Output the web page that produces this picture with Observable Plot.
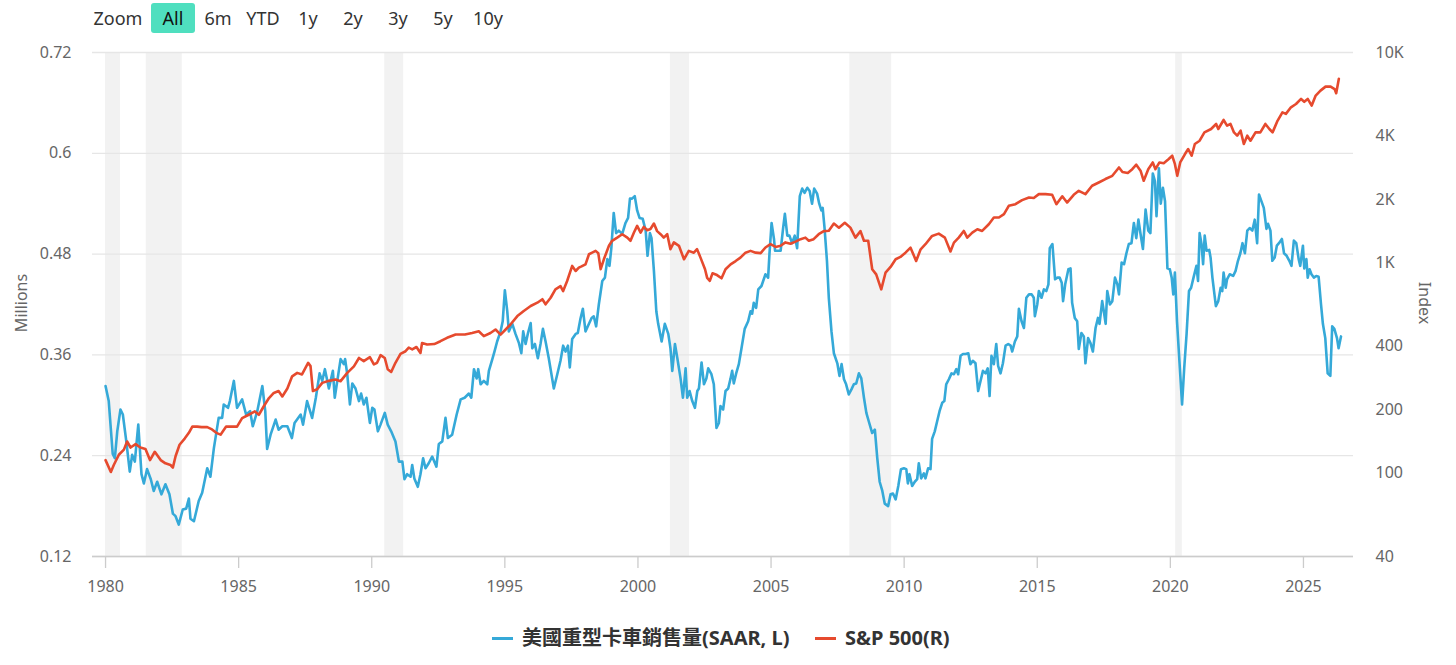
<!DOCTYPE html>
<html>
<head>
<meta charset="utf-8">
<script src="https://cdn.jsdelivr.net/npm/d3@7"></script>
<script src="https://cdn.jsdelivr.net/npm/@observablehq/plot@0.6"></script>
<style>
  html, body { margin: 0; padding: 0; background: #fff; }
  body { font-family: "Noto Sans", "Noto Sans CJK TC", sans-serif; }
  #wrap { position: relative; width: 1456px; height: 665px; overflow: hidden; }
  #wrap svg { position: absolute; left: 0; top: 0; }
  .btn { position: absolute; top: 3px; width: 44px; height: 30px; line-height: 30px; text-align: center; font-size: 18px; color: #333; border-radius: 3px; }
  .btn.sel { background: #4fdfbf; color: #111; }
  .ttl { position: absolute; font-size: 16px; color: #666; white-space: nowrap; }
  .leg { position: absolute; top: 623px; font-size: 20px; color: #333; font-weight: bold; white-space: nowrap; line-height: 30px; font-family: "Noto Sans", "Noto Sans CJK TC", sans-serif; }
  .sw { position: absolute; top: 637px; height: 3px; width: 21px; }
</style>
</head>
<body>
<div id="wrap"></div>
<script>
// ---- data ----
const truckYear = [1980.00,1980.12,1980.27,1980.35,1980.44,1980.56,1980.65,1980.78,1980.91,1981.00,1981.10,1981.23,1981.35,1981.44,1981.56,1981.70,1981.81,1981.94,1982.10,1982.25,1982.40,1982.53,1982.63,1982.75,1982.90,1983.03,1983.13,1983.19,1983.32,1983.50,1983.63,1983.82,1983.94,1984.07,1984.25,1984.38,1984.44,1984.60,1984.67,1984.82,1984.94,1985.13,1985.28,1985.43,1985.53,1985.70,1985.89,1986.00,1986.07,1986.20,1986.39,1986.50,1986.64,1986.83,1987.00,1987.10,1987.33,1987.42,1987.57,1987.76,1987.90,1988.04,1988.14,1988.24,1988.39,1988.54,1988.61,1988.83,1988.95,1989.00,1989.08,1989.18,1989.27,1989.39,1989.52,1989.60,1989.70,1989.80,1989.93,1990.02,1990.10,1990.23,1990.33,1990.49,1990.60,1990.73,1990.89,1991.02,1991.15,1991.23,1991.33,1991.46,1991.52,1991.60,1991.73,1991.83,1991.93,1992.02,1992.14,1992.27,1992.43,1992.52,1992.65,1992.77,1992.86,1993.02,1993.19,1993.34,1993.49,1993.65,1993.74,1993.84,1993.94,1994.00,1994.09,1994.21,1994.34,1994.40,1994.53,1994.61,1994.71,1994.84,1994.92,1995.00,1995.09,1995.15,1995.28,1995.40,1995.53,1995.62,1995.69,1995.78,1995.87,1995.97,1996.03,1996.13,1996.24,1996.34,1996.43,1996.53,1996.65,1996.84,1996.97,1997.09,1997.19,1997.28,1997.37,1997.44,1997.53,1997.66,1997.74,1997.84,1997.93,1998.03,1998.16,1998.26,1998.34,1998.43,1998.53,1998.66,1998.76,1998.85,1998.93,1999.00,1999.09,1999.18,1999.28,1999.41,1999.53,1999.63,1999.70,1999.78,1999.88,1999.97,2000.06,2000.18,2000.29,2000.36,2000.45,2000.51,2000.60,2000.69,2000.76,2000.89,2001.01,2001.14,2001.22,2001.29,2001.39,2001.48,2001.60,2001.69,2001.79,2001.85,2001.94,2002.04,2002.14,2002.23,2002.29,2002.39,2002.48,2002.57,2002.64,2002.76,2002.85,2002.95,2003.04,2003.10,2003.20,2003.29,2003.39,2003.48,2003.54,2003.60,2003.69,2003.79,2003.89,2004.01,2004.14,2004.23,2004.29,2004.35,2004.44,2004.52,2004.64,2004.79,2004.89,2004.94,2005.02,2005.11,2005.15,2005.27,2005.36,2005.45,2005.52,2005.61,2005.69,2005.79,2005.89,2005.98,2006.08,2006.17,2006.26,2006.36,2006.45,2006.54,2006.62,2006.73,2006.81,2006.89,2006.94,2007.01,2007.10,2007.17,2007.27,2007.36,2007.49,2007.57,2007.65,2007.74,2007.82,2007.92,2008.02,2008.11,2008.20,2008.30,2008.39,2008.49,2008.58,2008.67,2008.80,2008.90,2008.99,2009.08,2009.18,2009.27,2009.40,2009.49,2009.58,2009.68,2009.78,2009.88,2009.99,2010.08,2010.14,2010.20,2010.30,2010.40,2010.49,2010.55,2010.64,2010.74,2010.80,2010.90,2010.99,2011.05,2011.15,2011.24,2011.33,2011.43,2011.51,2011.58,2011.68,2011.78,2011.87,2011.96,2012.03,2012.12,2012.21,2012.31,2012.41,2012.49,2012.58,2012.68,2012.78,2012.87,2012.96,2013.06,2013.14,2013.21,2013.28,2013.37,2013.46,2013.53,2013.62,2013.71,2013.81,2013.91,2014.00,2014.06,2014.16,2014.25,2014.31,2014.41,2014.50,2014.59,2014.69,2014.79,2014.87,2014.91,2015.00,2015.06,2015.16,2015.25,2015.34,2015.42,2015.47,2015.57,2015.67,2015.76,2015.84,2015.92,2015.97,2016.05,2016.17,2016.25,2016.31,2016.41,2016.50,2016.56,2016.66,2016.75,2016.81,2016.91,2017.00,2017.09,2017.19,2017.28,2017.34,2017.44,2017.50,2017.57,2017.63,2017.73,2017.82,2017.92,2018.01,2018.07,2018.17,2018.26,2018.35,2018.44,2018.54,2018.63,2018.72,2018.80,2018.88,2018.97,2019.07,2019.17,2019.25,2019.34,2019.42,2019.48,2019.57,2019.64,2019.72,2019.80,2019.89,2019.98,2020.05,2020.11,2020.17,2020.25,2020.34,2020.44,2020.52,2020.61,2020.70,2020.78,2020.87,2020.98,2021.04,2021.10,2021.17,2021.23,2021.29,2021.36,2021.46,2021.51,2021.58,2021.71,2021.80,2021.89,2021.95,2022.00,2022.08,2022.13,2022.23,2022.36,2022.45,2022.54,2022.63,2022.71,2022.80,2022.89,2022.98,2023.08,2023.17,2023.26,2023.33,2023.42,2023.51,2023.61,2023.67,2023.76,2023.83,2023.92,2024.00,2024.08,2024.19,2024.27,2024.37,2024.47,2024.55,2024.64,2024.73,2024.82,2024.88,2024.98,2025.03,2025.11,2025.16,2025.23,2025.30,2025.39,2025.48,2025.57,2025.66,2025.73,2025.82,2025.91,2026.01,2026.08,2026.16,2026.26,2026.32,2026.41];
const truckSales = [0.323,0.305,0.242,0.237,0.269,0.295,0.289,0.257,0.221,0.241,0.233,0.277,0.218,0.207,0.224,0.212,0.198,0.209,0.194,0.206,0.194,0.171,0.168,0.158,0.176,0.177,0.189,0.165,0.162,0.186,0.196,0.225,0.215,0.249,0.285,0.285,0.301,0.297,0.305,0.329,0.297,0.307,0.289,0.293,0.275,0.293,0.323,0.293,0.248,0.265,0.283,0.271,0.275,0.275,0.261,0.279,0.289,0.277,0.305,0.285,0.309,0.338,0.329,0.343,0.320,0.341,0.309,0.355,0.349,0.355,0.337,0.301,0.326,0.320,0.305,0.314,0.301,0.309,0.279,0.297,0.295,0.269,0.277,0.291,0.277,0.269,0.257,0.233,0.233,0.212,0.218,0.215,0.229,0.213,0.203,0.218,0.237,0.225,0.231,0.239,0.227,0.254,0.257,0.285,0.261,0.265,0.289,0.307,0.309,0.314,0.309,0.343,0.332,0.343,0.325,0.329,0.325,0.341,0.355,0.364,0.376,0.388,0.400,0.437,0.412,0.388,0.397,0.385,0.374,0.362,0.388,0.373,0.386,0.398,0.368,0.373,0.356,0.373,0.391,0.376,0.356,0.320,0.337,0.353,0.371,0.364,0.371,0.345,0.379,0.385,0.386,0.403,0.415,0.388,0.397,0.404,0.406,0.394,0.420,0.448,0.452,0.474,0.466,0.487,0.529,0.505,0.508,0.504,0.517,0.523,0.546,0.546,0.549,0.532,0.523,0.522,0.508,0.478,0.505,0.499,0.460,0.412,0.397,0.376,0.397,0.385,0.368,0.341,0.373,0.356,0.332,0.309,0.344,0.309,0.317,0.305,0.297,0.317,0.320,0.351,0.325,0.332,0.344,0.337,0.325,0.273,0.279,0.299,0.295,0.317,0.320,0.332,0.341,0.326,0.338,0.349,0.368,0.391,0.400,0.412,0.409,0.422,0.416,0.438,0.442,0.456,0.452,0.480,0.517,0.498,0.484,0.484,0.484,0.510,0.528,0.502,0.502,0.493,0.502,0.487,0.549,0.558,0.553,0.559,0.555,0.540,0.558,0.552,0.540,0.532,0.535,0.511,0.472,0.428,0.388,0.362,0.350,0.335,0.349,0.331,0.325,0.313,0.319,0.325,0.326,0.338,0.332,0.309,0.291,0.281,0.267,0.271,0.237,0.209,0.198,0.183,0.180,0.194,0.195,0.188,0.204,0.224,0.225,0.224,0.207,0.218,0.204,0.209,0.212,0.231,0.213,0.219,0.213,0.225,0.224,0.260,0.269,0.281,0.293,0.303,0.305,0.325,0.331,0.338,0.337,0.343,0.337,0.359,0.361,0.361,0.362,0.349,0.353,0.350,0.317,0.329,0.341,0.338,0.344,0.311,0.359,0.349,0.373,0.347,0.338,0.350,0.371,0.373,0.371,0.364,0.376,0.382,0.415,0.400,0.392,0.428,0.432,0.432,0.428,0.406,0.420,0.436,0.428,0.438,0.436,0.444,0.487,0.492,0.450,0.452,0.452,0.446,0.424,0.444,0.462,0.463,0.422,0.404,0.400,0.367,0.386,0.382,0.350,0.380,0.374,0.364,0.392,0.404,0.397,0.424,0.412,0.397,0.436,0.420,0.424,0.452,0.444,0.432,0.470,0.468,0.481,0.492,0.493,0.517,0.499,0.521,0.504,0.486,0.533,0.508,0.505,0.576,0.567,0.525,0.582,0.540,0.559,0.543,0.463,0.462,0.452,0.432,0.458,0.400,0.353,0.301,0.344,0.385,0.436,0.440,0.452,0.466,0.448,0.505,0.492,0.468,0.502,0.484,0.485,0.476,0.452,0.418,0.424,0.440,0.436,0.458,0.440,0.450,0.456,0.454,0.460,0.472,0.481,0.493,0.481,0.508,0.511,0.508,0.521,0.493,0.551,0.543,0.535,0.510,0.516,0.508,0.472,0.476,0.490,0.493,0.498,0.481,0.478,0.472,0.466,0.496,0.493,0.474,0.466,0.490,0.463,0.474,0.452,0.462,0.456,0.452,0.454,0.453,0.420,0.397,0.380,0.338,0.335,0.394,0.391,0.380,0.368,0.382];

const spxYear = [1980.00,1980.20,1980.31,1980.50,1980.69,1980.81,1980.94,1981.13,1981.31,1981.50,1981.67,1981.85,1982.07,1982.25,1982.44,1982.53,1982.63,1982.78,1982.98,1983.13,1983.26,1983.44,1983.61,1983.82,1984.00,1984.16,1984.32,1984.53,1984.76,1984.94,1985.13,1985.38,1985.61,1985.76,1985.95,1986.14,1986.32,1986.50,1986.64,1986.83,1987.01,1987.20,1987.38,1987.51,1987.61,1987.70,1987.79,1987.95,1988.14,1988.39,1988.64,1988.83,1989.08,1989.33,1989.52,1989.70,1989.93,1990.08,1990.20,1990.33,1990.49,1990.60,1990.73,1990.89,1991.08,1991.27,1991.39,1991.52,1991.68,1991.83,1991.89,1992.08,1992.35,1992.58,1992.83,1993.15,1993.50,1993.77,1994.02,1994.21,1994.46,1994.65,1994.84,1995.03,1995.21,1995.47,1995.71,1995.97,1996.22,1996.41,1996.53,1996.72,1996.90,1997.09,1997.19,1997.34,1997.53,1997.66,1997.78,1997.88,1998.03,1998.16,1998.28,1998.41,1998.51,1998.60,1998.72,1998.91,1999.03,1999.22,1999.41,1999.60,1999.72,1999.85,1999.97,2000.10,2000.22,2000.35,2000.47,2000.60,2000.72,2000.85,2000.97,2001.10,2001.22,2001.35,2001.54,2001.73,2001.91,2002.10,2002.22,2002.35,2002.52,2002.60,2002.70,2002.80,2002.97,2003.14,2003.29,2003.48,2003.67,2003.85,2004.04,2004.23,2004.42,2004.61,2004.79,2004.98,2005.17,2005.36,2005.54,2005.73,2005.92,2006.11,2006.29,2006.42,2006.60,2006.79,2006.98,2007.17,2007.36,2007.55,2007.77,2007.98,2008.17,2008.36,2008.49,2008.65,2008.80,2008.95,2009.14,2009.30,2009.49,2009.68,2009.86,2010.05,2010.24,2010.45,2010.62,2010.80,2011.05,2011.30,2011.53,2011.74,2011.87,2012.05,2012.24,2012.37,2012.56,2012.75,2012.93,2013.18,2013.37,2013.56,2013.75,2013.93,2014.18,2014.43,2014.69,2014.87,2015.06,2015.31,2015.56,2015.72,2015.94,2016.12,2016.37,2016.56,2016.81,2017.06,2017.31,2017.56,2017.82,2018.07,2018.20,2018.40,2018.57,2018.72,2018.88,2019.00,2019.17,2019.34,2019.44,2019.59,2019.75,2019.94,2020.07,2020.17,2020.26,2020.37,2020.55,2020.67,2020.80,2020.92,2021.10,2021.28,2021.53,2021.72,2021.80,2022.00,2022.13,2022.26,2022.39,2022.51,2022.64,2022.76,2022.89,2023.01,2023.20,2023.38,2023.57,2023.72,2023.84,2024.03,2024.21,2024.34,2024.53,2024.72,2024.91,2025.03,2025.16,2025.31,2025.46,2025.64,2025.83,2026.02,2026.17,2026.23,2026.33];
const spxClose = [115,101,109,122,129,141,132,137,132,130,115,126,115,111,109,106,120,136,146,155,166,166,165,165,161,155,152,166,166,166,182,189,196,189,208,227,240,245,231,252,288,299,294,316,334,322,245,250,268,274,278,273,299,321,352,340,355,328,334,363,352,311,302,334,368,379,394,387,397,372,415,408,410,423,439,455,455,463,472,447,463,481,455,481,508,557,589,622,645,670,634,681,747,774,733,818,965,913,947,960,982,1097,1116,1138,1110,931,1038,1203,1271,1316,1366,1316,1271,1391,1497,1391,1480,1427,1446,1535,1413,1366,1316,1366,1160,1249,1203,1038,1138,1116,1160,1057,931,847,820,890,873,843,931,982,1018,1057,1116,1138,1116,1110,1181,1225,1188,1203,1249,1230,1260,1294,1316,1271,1294,1366,1413,1420,1535,1468,1549,1468,1316,1413,1271,1271,931,880,747,896,954,1038,1065,1116,1179,1019,1158,1224,1341,1375,1316,1131,1246,1316,1416,1316,1390,1443,1416,1524,1640,1640,1701,1864,1898,1984,2042,2030,2119,2119,2104,1898,2070,1932,2104,2198,2119,2322,2407,2500,2590,2838,2700,2670,2785,2924,2740,2453,2785,2998,2785,2998,2975,3112,3227,2950,2590,2998,3288,3474,3227,3671,3805,4168,4326,4571,4326,4775,4487,4571,4168,4020,4246,3671,4020,3805,4168,4168,4571,4326,4168,4742,5192,5103,5486,5690,6014,5828,6014,5590,6237,6587,6882,6882,6700,6398,7494];

const recessionStart = [1980.00, 1981.53, 1990.49, 2001.22, 2007.96, 2020.20];
const recessionEnd   = [1980.56, 1982.88, 1991.20, 2001.94, 2009.53, 2020.45];

const xTicks = [1980, 1985, 1990, 1995, 2000, 2005, 2010, 2015, 2020, 2025];
const leftTicks = [0.12, 0.24, 0.36, 0.48, 0.6, 0.72];
const rightTicks = [40, 100, 200, 400, 1000, 2000, 4000, 10000];

const zoomButtons = ["All", "6m", "YTD", "1y", "2y", "3y", "5y", "10y"];
const seriesNames = ["美國重型卡車銷售量(SAAR, L)", "S&P 500(R)"];
const seriesColors = ["#35a9d8", "#e64a2e"];

// ---- tables ----
const truck = truckYear.map((t, i) => ({t, v: truckSales[i]}));
const spx = spxYear.map((t, i) => ({t, v: spxClose[i]}));
const bands = recessionStart.map((s, i) => ({x1: s, x2: recessionEnd[i]}));

const W = 1456, H = 610;
const frame = {width: W, height: H, marginTop: 52, marginBottom: 54, marginLeft: 92, marginRight: 103};
const xDomain = [1979.51, 2026.88];
const baseStyle = {fontFamily: '"Noto Sans", sans-serif', fontSize: "16px", color: "#666", background: "transparent", overflow: "visible"};

const left = Plot.plot({
  ...frame,
  style: baseStyle,
  x: {domain: xDomain},
  y: {domain: [0.12, 0.72]},
  marks: [
    Plot.rect(bands, {x1: "x1", x2: "x2", y1: 0.12, y2: 0.72, fill: "#f2f2f2"}),
    Plot.gridY(leftTicks, {stroke: "#e6e6e6", strokeOpacity: 1, strokeWidth: 1.3}),
    Plot.ruleY([0.12], {stroke: "#cccccc", strokeWidth: 1.6}),
    Plot.axisY(leftTicks, {anchor: "left", tickSize: 0, tickPadding: 21, tickFormat: d => String(d), label: null, fill: "#666"}),
    Plot.axisX(xTicks, {anchor: "bottom", tickSize: 12, tickPadding: 12, tickFormat: d => String(d), label: null, stroke: "#cccccc", strokeWidth: 1.3, fill: "#666"}),
    Plot.lineY(truck, {x: "t", y: "v", stroke: seriesColors[0], strokeWidth: 2.6, strokeLinejoin: "round"})
  ]
});

const right = Plot.plot({
  ...frame,
  style: baseStyle,
  x: {domain: xDomain, axis: null},
  y: {type: "log", domain: [40, 10000], axis: null},
  marks: [
    Plot.axisY(rightTicks, {anchor: "right", tickSize: 0, tickPadding: 22, tickFormat: d => d >= 1000 ? (d / 1000) + "K" : String(d), label: null, fill: "#666"}),
    Plot.lineY(spx, {x: "t", y: "v", stroke: seriesColors[1], strokeWidth: 2.6, strokeLinejoin: "round"})
  ]
});

const wrap = document.getElementById("wrap");
wrap.appendChild(left);
wrap.appendChild(right);

// toolbar
const zl = document.createElement("div");
zl.className = "btn"; zl.style.left = "90px"; zl.style.width = "56px"; zl.textContent = "Zoom";
wrap.appendChild(zl);
zoomButtons.forEach((b, i) => {
  const d = document.createElement("div");
  d.className = "btn" + (i === 0 ? " sel" : "");
  d.style.left = (151 + i * 45) + "px";
  d.textContent = b;
  wrap.appendChild(d);
});

// axis titles
const yl = document.createElement("div");
yl.className = "ttl"; yl.textContent = "Millions";
yl.style.left = "21px"; yl.style.top = "303px"; yl.style.transform = "translate(-50%,-50%) rotate(-90deg)";
wrap.appendChild(yl);
const yr = document.createElement("div");
yr.className = "ttl"; yr.textContent = "Index";
yr.style.left = "1425px"; yr.style.top = "303px"; yr.style.transform = "translate(-50%,-50%) rotate(90deg)";
wrap.appendChild(yr);

// legend
const legX = [[492, 522], [815, 845]];
seriesNames.forEach((n, i) => {
  const s = document.createElement("div");
  s.className = "sw"; s.style.left = legX[i][0] + "px"; s.style.background = seriesColors[i];
  wrap.appendChild(s);
  const t = document.createElement("div");
  t.className = "leg"; t.style.left = legX[i][1] + "px"; t.textContent = n;
  wrap.appendChild(t);
});
</script>
</body>
</html>
